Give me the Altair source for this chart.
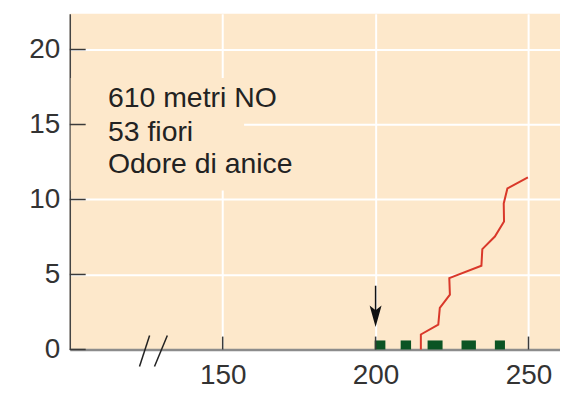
import altair as alt
import pandas as pd

# ---- data ----
line_x = [214.8, 214.8, 220.5, 221.0, 224.3, 224.1, 234.6, 234.9, 239.0, 242.0, 241.9, 243.1, 249.8]
line_y = [0.0, 1.0, 1.66, 2.77, 3.65, 4.76, 5.58, 6.69, 7.53, 8.53, 9.74, 10.74, 11.47]

patch_start = [199.7, 208.2, 217.0, 228.1, 239.0]
patch_end = [203.2, 211.6, 221.9, 232.8, 242.3]
patch_height = 0.6

x_ticks = [150, 200, 250]
y_ticks = [0, 5, 10, 15, 20]

labels = ["610 metri NO", "53 fiori", "Odore di anice"]
label_y = [16.17, 13.91, 11.74]
label_x = 112.5

arrow_x = 200
arrow_top = 4.25
arrow_bottom = 2.4
arrow_head_y = 2.3

break_x1 = [122.8, 127.7]
break_x2 = [126.1, 131.9]
break_y1 = -1.13
break_y2 = 0.93

BG = "#FDE8CB"
FONT = "Liberation Sans"

X = alt.Scale(domain=[100, 260.3], nice=False, zero=False)
Y = alt.Scale(domain=[0, 22.39], nice=False, zero=False)

ax_x = alt.Axis(values=x_ticks, grid=True, gridColor="white", gridWidth=2,
                tickSize=0, labelPadding=12, labelFontSize=28, labelColor="#333333",
                labelFont=FONT, domainColor="#8c8c8c", domainWidth=2.5, title=None)
ax_y = alt.Axis(values=y_ticks, grid=True, gridColor="white", gridWidth=2,
                tickSize=0, labelPadding=10, labelFontSize=28, labelColor="#333333",
                labelFont=FONT, domainColor="#444444", domainWidth=1.5, title=None)


def xe(f):
    return alt.X(f, type="quantitative", scale=X, axis=ax_x, title=None)


def ye(f):
    return alt.Y(f, type="quantitative", scale=Y, axis=ax_y, title=None)


line_df = pd.DataFrame({"x": line_x, "y": line_y, "i": range(len(line_x))})
patch_df = pd.DataFrame({"x": patch_start, "x2": patch_end, "y": [0] * 5, "y2": [patch_height] * 5})
xt_df = pd.DataFrame({"x": x_ticks, "y": [0] * 3, "y2": [0.86] * 3})
yt_df = pd.DataFrame({"x": [100] * 5, "x2": [105.2] * 5, "y": y_ticks})
text_df = pd.DataFrame({"x": [label_x] * 3, "y": label_y, "t": labels})
box_df = pd.DataFrame({"x": [100.3], "x2": [157.0], "y": [10.6], "y2": [18.1]})
arrow_df = pd.DataFrame({"x": [arrow_x], "y": [arrow_top], "y2": [arrow_bottom], "yh": [arrow_head_y]})
break_df = pd.DataFrame({"x": break_x1, "x2": break_x2, "y": [break_y1] * 2, "y2": [break_y2] * 2})

base = alt.Chart(line_df).mark_line(color="#d9382a", strokeWidth=2).encode(
    x=xe("x"), y=ye("y"), order=alt.Order("i:Q"))

box = alt.Chart(box_df).mark_rect(color=BG).encode(
    x=xe("x"), x2="x2", y=ye("y"), y2="y2")

patches = alt.Chart(patch_df).mark_rect(color="#0b5424").encode(
    x=xe("x"), x2="x2", y=ye("y"), y2="y2")

xticks = alt.Chart(xt_df).mark_rule(color="#3a3a3a", strokeWidth=1.5).encode(
    x=xe("x"), y=ye("y"), y2="y2")

yticks = alt.Chart(yt_df).mark_rule(color="#3a3a3a", strokeWidth=1.5).encode(
    x=xe("x"), x2="x2", y=ye("y"))

text = alt.Chart(text_df).mark_text(align="left", baseline="alphabetic", fontSize=28.5,
                                    font=FONT, color="#222222").encode(
    x=xe("x"), y=ye("y"), text="t:N")

arrow = alt.Chart(arrow_df).mark_rule(color="#111111", strokeWidth=1.5).encode(
    x=xe("x"), y=ye("y"), y2="y2")

head = alt.Chart(arrow_df).mark_point(shape="M0,1L-0.5,-0.8L0,-0.4L0.5,-0.8Z", filled=True,
                                      size=576, color="#111111", opacity=1).encode(
    x=xe("x"), y=ye("yh"))

brk = alt.Chart(break_df).mark_rule(color="#222222", strokeWidth=1.5, clip=False).encode(
    x=xe("x"), x2="x2", y=ye("y"), y2="y2")

chart = alt.layer(box, patches, base, xticks, yticks, arrow, head, text, brk).properties(
    width=492, height=337,
    autosize=alt.AutoSizeParams(type="none"),
    padding={"left": 62, "top": 5, "right": 0, "bottom": 47},
    background="white",
).configure_view(fill=BG, strokeWidth=0)

chart.save("out.html", embed_options={"renderer": "svg", "actions": False})
